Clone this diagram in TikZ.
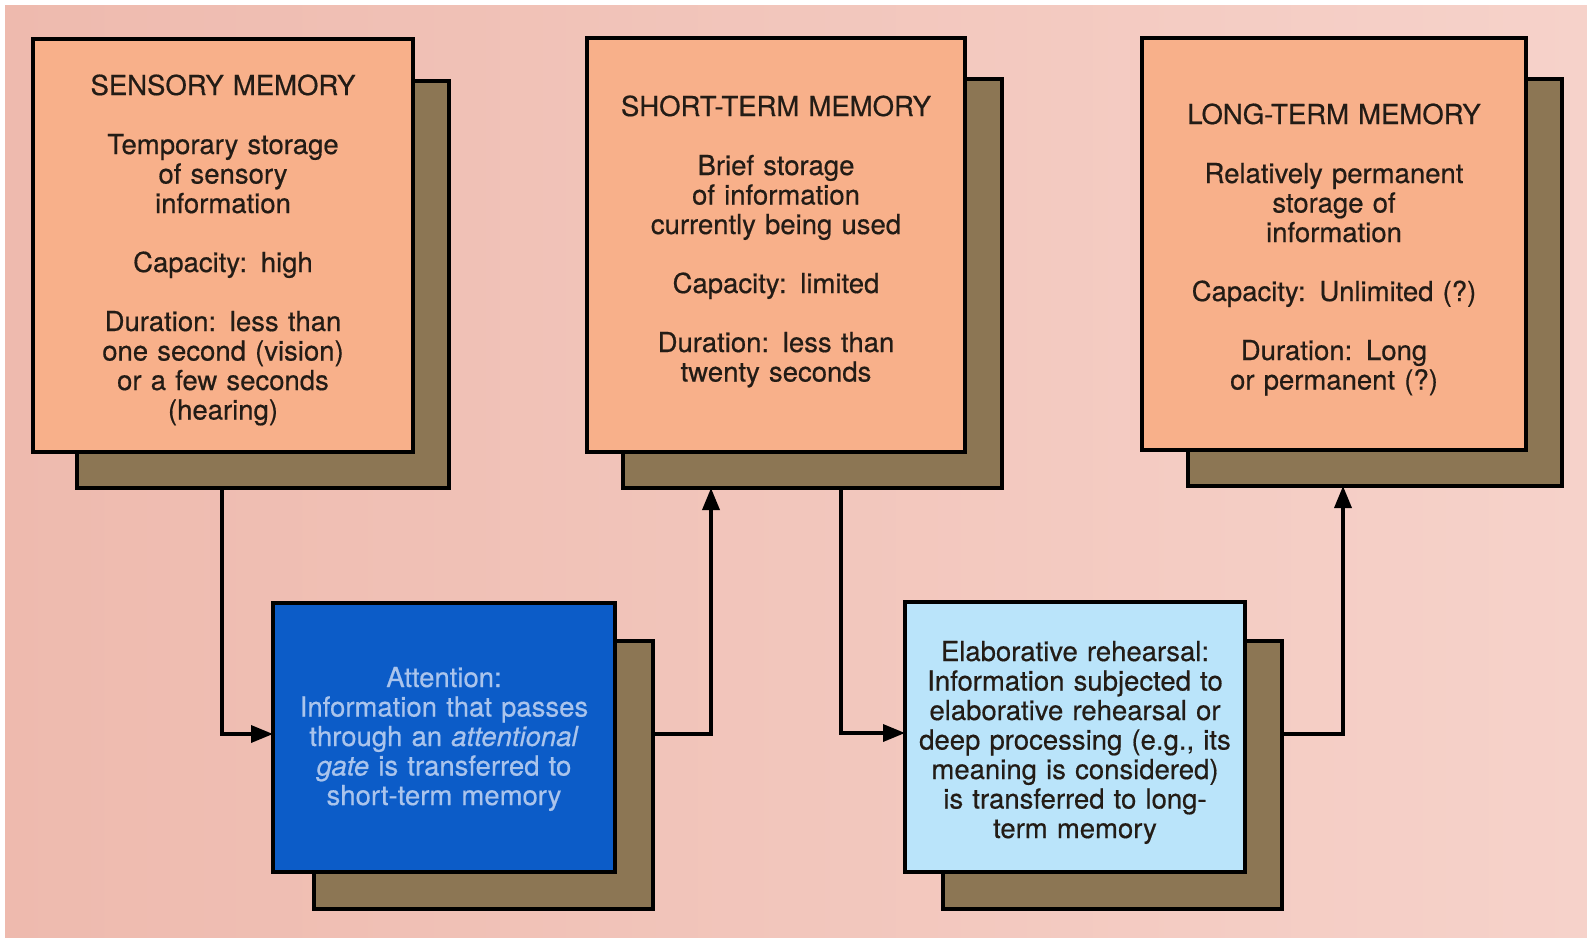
\documentclass[tikz,border=0pt]{standalone}
\usepackage{fontspec}
\setmainfont{TeX Gyre Heros}
\newfontfamily\lblfont[FakeBold=0.5]{TeX Gyre Heros}
\usetikzlibrary{arrows.meta}
\definecolor{peach}{RGB}{248,176,138}
\definecolor{shadowc}{RGB}{140,118,84}
\definecolor{attblue}{RGB}{12,92,200}
\definecolor{atttext}{RGB}{170,196,236}
\definecolor{elabblue}{RGB}{186,228,250}
\definecolor{bgl}{RGB}{238,186,174}
\definecolor{bgr}{RGB}{246,210,202}
\definecolor{ink}{RGB}{35,28,22}
\tikzset{
  front/.style={draw=black, line width=3.5pt, fill=peach, rectangle, inner sep=0pt, outer sep=0pt},
  shadowbox/.style={draw=black, line width=3.5pt, fill=shadowc, rectangle, inner sep=0pt, outer sep=0pt},
  txt/.style={font=\lblfont\fontsize{27.5}{29.5}\selectfont, text width=370pt, align=center, anchor=base, inner sep=0pt, text=ink},
  arr/.style={draw=black, line width=3.5pt, -{Triangle[length=22pt,width=17pt]}}
}
\begin{document}
\begin{tikzpicture}[x=1pt,y=-1pt]
\useasboundingbox (0,0) rectangle (1587,937);
\fill[white] (0,0) rectangle (1587,937);
\shade[left color=bgl, right color=bgr] (5,5) rectangle (1587,937);

% Sensory memory
\node[shadowbox, minimum width=372pt, minimum height=407pt] (sensS) at (263,284.5) {};
\node[front, minimum width=380pt, minimum height=413pt] (sensF) at (223,245.5) {};
\node[txt] (sensT) at (223,95) {SENSORY MEMORY\\[29.5pt]
Temporary storage\\ of sensory\\ information\\[29.5pt]
Capacity:\enspace high\\[29.5pt]
Duration:\enspace less than\\ one second (vision)\\ or a few seconds\\ (hearing)};

% Short-term memory
\node[shadowbox, minimum width=379pt, minimum height=409pt] (stmS) at (812.5,283.5) {};
\node[front, minimum width=378pt, minimum height=414pt] (stmF) at (776,245) {};
\node[txt] (stmT) at (776,116) {SHORT-TERM MEMORY\\[29.5pt]
Brief storage\\ of information\\ currently being used\\[29.5pt]
Capacity:\enspace limited\\[29.5pt]
Duration:\enspace less than\\ twenty seconds};

% Long-term memory
\node[shadowbox, minimum width=374pt, minimum height=407pt] (ltmS) at (1375,282.5) {};
\node[front, minimum width=384pt, minimum height=412pt] (ltmF) at (1334,244) {};
\node[txt] (ltmT) at (1334,124) {LONG-TERM MEMORY\\[29.5pt]
Relatively permanent\\ storage of\\ information\\[29.5pt]
Capacity:\enspace Unlimited (?)\\[29.5pt]
Duration:\enspace Long\\ or permanent (?)};

% Attention
\node[shadowbox, minimum width=339pt, minimum height=268pt] (attS) at (483.5,775) {};
\node[front, fill=attblue, minimum width=342pt, minimum height=269pt] (attF) at (444,737.5) {};
\node[txt, text=atttext] (attT) at (444,687) {Attention:\\ Information that passes\\ through an \textit{attentional}\\ \textit{gate} is transferred to\\ short-term memory};

% Elaborative rehearsal
\node[shadowbox, minimum width=339pt, minimum height=268pt] (elabS) at (1112.5,775) {};
\node[front, fill=elabblue, minimum width=340pt, minimum height=270pt] (elabF) at (1075,737) {};
\node[txt] (elabT) at (1075,661) {Elaborative rehearsal:\\ Information subjected to\\ elaborative rehearsal or\\ deep processing (e.g., its\\ meaning is considered)\\ is transferred to long-\\ term memory};

% Connectors
\coordinate (s1) at (222,488);
\draw[arr] (s1) |- ([yshift=3.5pt]attF.west);
\coordinate (s2) at (653,734);
\coordinate (e2) at (711,488);
\draw[arr] (s2) -| (e2);
\coordinate (s3) at (841,488);
\draw[arr] (s3) |- ([yshift=4pt]elabF.west);
\coordinate (s4) at (1282,734);
\coordinate (e4) at (1343,486);
\draw[arr] (s4) -| (e4);
\end{tikzpicture}
\end{document}
